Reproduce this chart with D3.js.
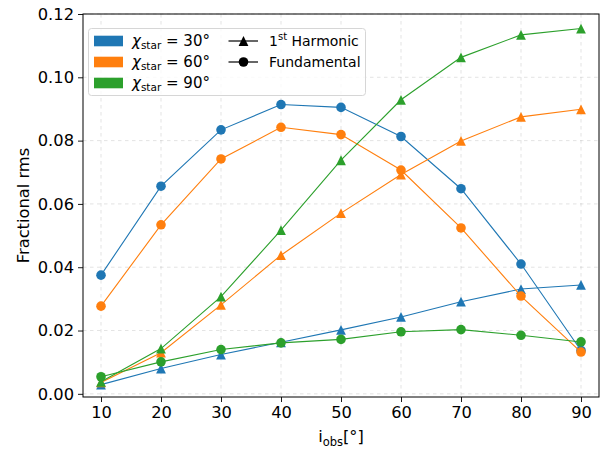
<!DOCTYPE html>
<html>
<head>
<meta charset="utf-8">
<script src="https://cdn.jsdelivr.net/npm/d3@7"></script>
<style>
  html, body { margin: 0; padding: 0; background: #fff; }
  svg { display: block; font-family: "DejaVu Sans", sans-serif; }
</style>
</head>
<body>
<svg id="chart" width="615" height="450"></svg>
<script>
// Observer inclination (degrees)
const inclinations = [10, 20, 30, 40, 50, 60, 70, 80, 90];

// Stellar magnetic obliquity values and their colours
const chiValues = [30, 60, 90];
const chiColors = ["#1f77b4", "#ff7f0e", "#2ca02c"];

// Fractional rms of the fundamental
const fund30 = [0.0375, 0.0656, 0.0834, 0.0914, 0.0905, 0.0813, 0.0648, 0.0410, 0.0137];
const fund60 = [0.0277, 0.0534, 0.0742, 0.0842, 0.0819, 0.0707, 0.0524, 0.0309, 0.0132];
const fund90 = [0.0054, 0.0101, 0.0140, 0.0161, 0.0172, 0.0196, 0.0203, 0.0185, 0.0164];

// Fractional rms of the first harmonic
const harm30 = [0.0029, 0.0080, 0.0124, 0.0163, 0.0202, 0.0243, 0.0291, 0.0331, 0.0344];
const harm60 = [0.0036, 0.0130, 0.0281, 0.0438, 0.0571, 0.0693, 0.0799, 0.0875, 0.0899];
const harm90 = [0.0038, 0.0143, 0.0307, 0.0517, 0.0738, 0.0929, 0.1063, 0.1134, 0.1154];

const xTicks = [10, 20, 30, 40, 50, 60, 70, 80, 90];
const yTicks = [0, 0.02, 0.04, 0.06, 0.08, 0.10, 0.12];

const fundSeries = [fund30, fund60, fund90];
const harmSeries = [harm30, harm60, harm90];

const svg = d3.select("#chart");
const plotLeft = 83, plotRight = 599, plotTop = 14, plotBottom = 397;
const labelSize = 16.3;

const x = d3.scaleLinear().domain([7, 93]).range([plotLeft, plotRight]);
const y = d3.scaleLinear().domain([-0.001, 0.12]).range([plotBottom, plotTop]);

// Grid
const grid = svg.append("g").attr("stroke", "#b0b0b0").attr("stroke-opacity", 0.45)
  .attr("stroke-dasharray", "3.5,3.5").attr("stroke-width", 0.8);
grid.selectAll("line.v").data(xTicks).join("line").attr("class", "v")
  .attr("x1", d => x(d)).attr("x2", d => x(d)).attr("y1", plotTop).attr("y2", plotBottom);
grid.selectAll("line.h").data(yTicks).join("line").attr("class", "h")
  .attr("y1", d => y(d)).attr("y2", d => y(d)).attr("x1", plotLeft).attr("x2", plotRight);

// Axes
const xAxis = svg.append("g").attr("transform", `translate(0,${plotBottom})`)
  .call(d3.axisBottom(x).tickValues(xTicks).tickFormat(d3.format("d")).tickSizeOuter(0).tickSize(5).tickPadding(4));
const yAxis = svg.append("g").attr("transform", `translate(${plotLeft},0)`)
  .call(d3.axisLeft(y).tickValues(yTicks).tickFormat(d3.format(".2f")).tickSizeOuter(0).tickSize(5).tickPadding(4));
[xAxis, yAxis].forEach(a => {
  a.select(".domain").remove();
  a.selectAll("text").attr("font-size", labelSize).attr("fill", "#000").attr("font-family", "DejaVu Sans");
  a.selectAll("line").attr("stroke", "#000").attr("stroke-width", 0.9);
});

// Frame
svg.append("rect").attr("x", plotLeft).attr("y", plotTop).attr("width", plotRight - plotLeft).attr("height", plotBottom - plotTop)
  .attr("fill", "none").attr("stroke", "#000").attr("stroke-width", 1);

// Triangle marker: equal width and height, centred on the point
const triPath = s => `M0,${-s / 2}L${s / 2},${s / 2}L${-s / 2},${s / 2}Z`;
const triSize = 9.8, dotR = 4.8;

// Series
const line = d3.line().x((d, i) => x(inclinations[i])).y(d => y(d));
const plot = svg.append("g");
chiValues.forEach((chi, k) => {
  const c = chiColors[k];
  const fs = fundSeries[k], hs = harmSeries[k];
  plot.append("path").datum(hs).attr("d", line).attr("fill", "none").attr("stroke", c).attr("stroke-width", 1.1);
  plot.append("g").selectAll("path").data(hs).join("path")
    .attr("d", triPath(triSize)).attr("fill", c)
    .attr("transform", (d, i) => `translate(${x(inclinations[i])},${y(d)})`);
  plot.append("path").datum(fs).attr("d", line).attr("fill", "none").attr("stroke", c).attr("stroke-width", 1.1);
  plot.append("g").selectAll("circle").data(fs).join("circle")
    .attr("cx", (d, i) => x(inclinations[i])).attr("cy", d => y(d)).attr("r", dotR).attr("fill", c);
});

// Axis titles
svg.append("text").attr("x", 341).attr("y", 442).attr("text-anchor", "middle")
  .attr("font-size", labelSize).call(t => {
    t.append("tspan").text("i");
    t.append("tspan").attr("font-size", 11.5).attr("dy", 4).text("obs");
    t.append("tspan").attr("dy", -4).text("[°]");
  });
svg.append("text").attr("transform", `translate(28.5,${(plotTop + plotBottom) / 2}) rotate(-90)`)
  .attr("text-anchor", "middle").attr("font-size", labelSize).text("Fractional rms");

// Legend
const lg = svg.append("g");
const legendSize = 14;
lg.append("rect").attr("x", 88.5).attr("y", 28.5).attr("width", 277).attr("height", 67).attr("rx", 3)
  .attr("fill", "#fff").attr("fill-opacity", 0.8).attr("stroke", "#d6d6d6").attr("stroke-width", 1);
chiValues.forEach((chi, k) => {
  const cy = 41 + k * 21;
  lg.append("rect").attr("x", 94).attr("y", cy - 5.3).attr("width", 29).attr("height", 10.6).attr("fill", chiColors[k]);
  const t = lg.append("text").attr("x", 132).attr("y", cy + 5).attr("font-size", legendSize + 1);
  t.append("tspan").attr("font-style", "italic").text("χ");
  t.append("tspan").attr("font-size", 10.5).attr("dy", 3).text("star");
  t.append("tspan").attr("dy", -3).text(" = " + chi + "°");
});
const styles = ["harm", "fund"];
styles.forEach((s, k) => {
  const cy = 41 + k * 21;
  lg.append("line").attr("x1", 228.5).attr("x2", 258).attr("y1", cy).attr("y2", cy).attr("stroke", "#000").attr("stroke-width", 1.2);
  if (s === "harm") {
    lg.append("path").attr("d", triPath(triSize)).attr("transform", `translate(243.5,${cy})`).attr("fill", "#000");
  } else {
    lg.append("circle").attr("cx", 243.5).attr("cy", cy).attr("r", dotR).attr("fill", "#000");
  }
  const t = lg.append("text").attr("x", 269).attr("y", cy + 5).attr("font-size", legendSize);
  if (s === "harm") {
    t.append("tspan").text("1");
    t.append("tspan").attr("font-size", 10).attr("dy", -6).text("st");
    t.append("tspan").attr("dy", 6).text(" Harmonic");
  } else {
    t.text("Fundamental");
  }
});
</script>
</body>
</html>
